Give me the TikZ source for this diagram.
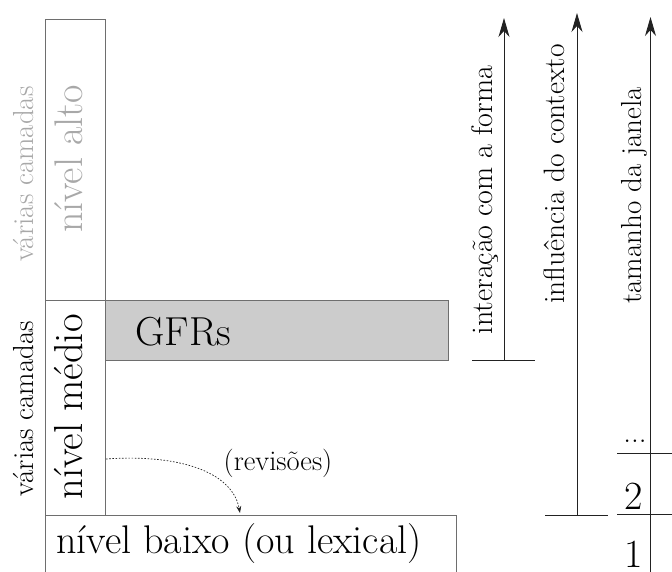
\documentclass[tikz,border=0pt]{standalone}
\usepackage{fontspec}
\usetikzlibrary{arrows.meta}
\definecolor{frame}{HTML}{6E6E6E}
\definecolor{soft}{HTML}{A8A8A8}
\definecolor{gfrfill}{HTML}{CCCCCC}
\definecolor{ink}{HTML}{222222}
\begin{document}
\begin{tikzpicture}[x=1pt,y=-1pt,
  box/.style={draw=frame, line width=0.9pt, inner sep=0pt},
  txt/.style={font=\fontsize{#1}{#1}\selectfont, inner sep=0pt},
  vert/.style={rotate=90, anchor=base},
  axis/.style={draw=ink, line width=0.9pt},
  tip/.style={-{Stealth[length=19pt,width=11pt,inset=6pt]}}
]
\useasboundingbox (0,0) rectangle (672,572);

% level boxes
\node[box, minimum width=60pt, minimum height=281pt] (alto)  at (75,159.5) {};
\node[box, minimum width=60pt, minimum height=215pt] (medio) at (75,407.5) {};
\node[box, fill=gfrfill, minimum width=343pt, minimum height=60pt] (gfr) at (276.5,330) {};
\node[box, minimum width=411pt, minimum height=80pt] (baixo) at (250.5,555) {};

% level labels
\node[txt=29, vert, text=soft] (camA) at (33,174) {várias camadas};
\node[txt=40, vert, text=soft] (altoT) at (82,159) {nível alto};
\node[txt=29, vert] (camB) at (33,408.5) {várias camadas};
\node[txt=40.5, vert] (medioT) at (82,407) {nível médio};
\node[txt=40.5, anchor=base] (gfrT) at (183.5,345) {GFRs};
\node[txt=40, anchor=base] (baixoT) at (239,553) {nível baixo (ou lexical)};

% revisions
\coordinate (revA) at (106,459);
\coordinate (revB) at (240,513);
\draw[ink, line width=0.7pt, dash pattern=on 1.6pt off 1.6pt,
      -{Stealth[length=7pt,width=5pt]}]
  (revA) .. controls (175,454) and (232,470) .. (revB);
\node[txt=28.5, anchor=base] (revT) at (278,470) {(revisões)};

% interaction axis
\coordinate (b1L) at (472,360.5);
\coordinate (b1R) at (535,360.5);
\coordinate (a1s) at (504,360.5);
\coordinate (a1e) at (504,18);
\draw[axis] (b1L) -- (b1R);
\draw[axis, tip] (a1s) -- (a1e);
\node[txt=30, vert] (a1T) at (492,200) {interação com a forma};

% context axis
\coordinate (b2L) at (545,515);
\coordinate (b2R) at (608,515);
\coordinate (a2s) at (577,515);
\coordinate (a2e) at (577,13);
\draw[axis] (b2L) -- (b2R);
\draw[axis, tip] (a2s) -- (a2e);
\node[txt=29.5, vert] (a2T) at (564,174) {influência do contexto};

% window axis with its scale
\coordinate (a3s) at (650.5,585);
\coordinate (a3e) at (650.5,17);
\draw[axis, tip] (a3s) -- (a3e);
\node[txt=29, vert] (a3T) at (641,195.5) {tamanho da janela};
\coordinate (t1L) at (617,453.5);
\coordinate (t1R) at (680,453.5);
\coordinate (t2L) at (617,514.5);
\coordinate (t2R) at (680,514.5);
\draw[axis] (t1L) -- (t1R);
\draw[axis] (t2L) -- (t2R);
\node[txt=31, anchor=base] (dots) at (635,442) {...};
\node[txt=40, anchor=base] (two) at (634,509) {2};
\node[txt=40, anchor=base] (one) at (634,567) {1};
\end{tikzpicture}
\end{document}
